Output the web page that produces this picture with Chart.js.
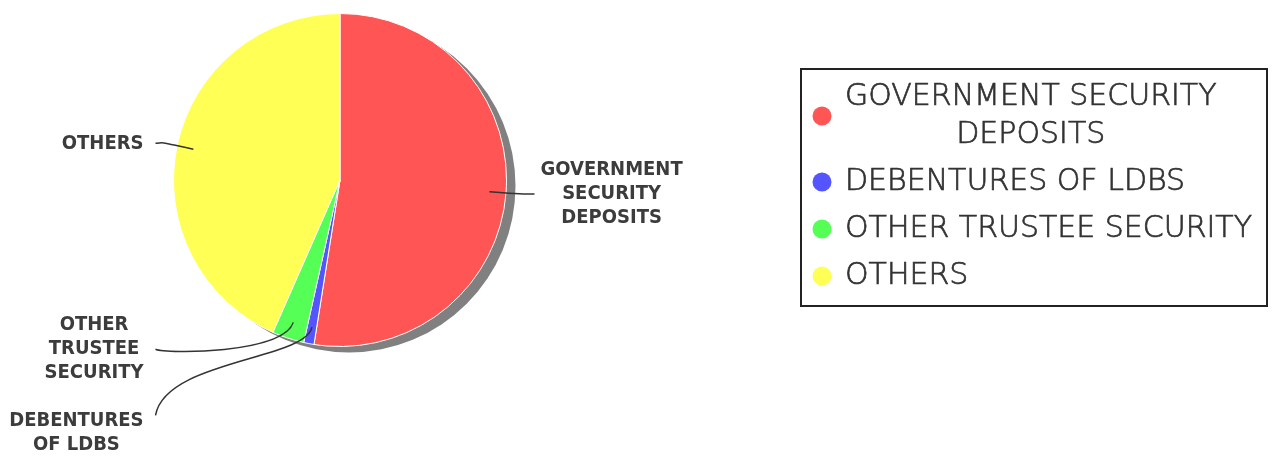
<!DOCTYPE html>
<html>
<head>
<meta charset="utf-8">
<script src="https://cdn.jsdelivr.net/npm/chart.js@4.4.0/dist/chart.umd.min.js"></script>
<style>
  html, body { margin: 0; padding: 0; background: #fff; }
  #wrap { width: 1276px; height: 457px; }
</style>
</head>
<body>
<div id="wrap"><canvas id="myChart" width="1276" height="457"></canvas></div>
<script>
const categories = ['GOVERNMENT SECURITY DEPOSITS', 'DEBENTURES OF LDBS', 'OTHER TRUSTEE SECURITY', 'OTHERS']
const shares = [52.5, 1.0, 3.1, 43.4]
const sliceColors = ['#ff5555', '#5555ff', '#55ff55', '#ffff55']

function wrapText(ctx, text, maxWidth) {
    let words = text.split(' ')
    let lines = []
    let line = ''
    words.forEach(w => {
        let test = line ? line + ' ' + w : w
        if (line && ctx.measureText(test).width > maxWidth) {
            lines.push(line)
            line = w
        } else {
            line = test
        }
    })
    if (line) lines.push(line)
    return lines
}

// gray drop shadow behind the pie
const shadowPlugin = {
    id: 'pieShadow',
    beforeDatasetsDraw(chart) {
        let arc = chart.getDatasetMeta(0).data[0]
        if (!arc) return
        let ctx = chart.ctx
        ctx.save()
        ctx.fillStyle = '#808080'
        ctx.beginPath()
        ctx.arc(arc.x + 9, arc.y + 6, arc.outerRadius, 0, Math.PI * 2)
        ctx.fill()
        ctx.restore()
    }
}

// outside labels with curved link lines
const labelPlugin = {
    id: 'pieLabels',
    afterDatasetsDraw(chart) {
        let ctx = chart.ctx
        let arcs = chart.getDatasetMeta(0).data
        let lineH = 24
        ctx.save()
        ctx.font = 'bold 20px "DejaVu Sans Condensed"'
        let items = arcs.map((arc, i) => {
            let mid = (arc.startAngle + arc.endAngle) / 2
            let R = arc.outerRadius
            let lines = wrapText(ctx, categories[i], 140)
            return {
                arc, mid, R, lines,
                left: Math.cos(mid) < 0,
                want: arc.y + Math.sin(mid) * R * 1.07,
                h: lines.length * lineH + 24
            }
        })
        ;[true, false].forEach(side => {
            let list = items.filter(it => it.left === side).sort((a, b) => a.want - b.want)
            let prevBottom = -Infinity
            list.forEach(it => {
                it.cy = Math.max(it.want, prevBottom + it.h / 2)
                prevBottom = it.cy + it.h / 2
            })
        })

        items.forEach(it => {
            let {arc, mid, R, lines} = it
            let n = lines.length
            let firstY = it.cy - (n - 1) * lineH / 2
            let targetX = it.left ? arc.x - R - 18 : arc.x + R + 28
            let targetY = it.cy > it.want + 1 ? firstY - 6 : it.cy
            let linkX = arc.x + Math.cos(mid) * R * 0.9
            let linkY = arc.y + Math.sin(mid) * R * 0.9
            let elbowX = arc.x + Math.cos(mid) * R * 1.1
            let elbowY = arc.y + Math.sin(mid) * R * 1.1
            let ctrlX = it.left ? targetX + 10 : targetX - 10

            ctx.strokeStyle = '#333333'
            ctx.lineWidth = 1.5
            ctx.beginPath()
            ctx.moveTo(targetX, targetY)
            ctx.bezierCurveTo(ctrlX, elbowY, elbowX, elbowY, linkX, linkY)
            ctx.stroke()

            let maxW = Math.max(...lines.map(l => ctx.measureText(l).width))
            let centerX = it.left ? targetX - 12 - maxW / 2 : targetX + 6 + maxW / 2
            ctx.fillStyle = '#3c3c3c'
            ctx.textAlign = 'center'
            ctx.textBaseline = 'middle'
            lines.forEach((l, k) => ctx.fillText(l, centerX, firstY + k * lineH))
        })
        ctx.restore()
    }
}

// boxed legend on the right
const legendPlugin = {
    id: 'boxLegend',
    afterDraw(chart) {
        let ctx = chart.ctx
        let boxX = 801, boxY = 69, boxW = 466, boxH = 237
        let lineH = 38, gap = 9
        ctx.save()
        ctx.strokeStyle = '#222222'
        ctx.lineWidth = 2
        ctx.strokeRect(boxX, boxY, boxW, boxH)

        ctx.font = '300 30px "DejaVu Sans"'
        ctx.textBaseline = 'middle'
        ctx.textAlign = 'center'
        let y = boxY + 9
        categories.forEach((label, i) => {
            let lines = wrapText(ctx, label, 420)
            let maxW = Math.max(...lines.map(l => ctx.measureText(l).width))
            let blockH = lines.length * lineH
            ctx.fillStyle = sliceColors[i]
            ctx.beginPath()
            ctx.arc(boxX + 21, y + blockH / 2, 9.5, 0, Math.PI * 2)
            ctx.fill()
            ctx.fillStyle = '#333333'
            ctx.strokeStyle = '#333333'
            ctx.lineWidth = 0.7
            lines.forEach((l, k) => {
                let tx = boxX + 44 + maxW / 2
                let ty = y + lineH / 2 + k * lineH
                ctx.fillText(l, tx, ty)
                ctx.strokeText(l, tx, ty)
            })
            y += blockH + gap
        })
        ctx.restore()
    }
}

const ctx = document.getElementById('myChart').getContext('2d')
const myChart = new Chart(ctx, {
    type: 'pie',
    data: {
        labels: categories,
        datasets: [{
            data: shares,
            backgroundColor: sliceColors,
            borderColor: '#ffffff',
            borderWidth: 1,
            hoverOffset: 0
        }]
    },
    options: {
        responsive: false,
        animation: false,
        layout: {
            padding: {left: 173, top: 13, right: 769, bottom: 110}
        },
        plugins: {
            legend: {display: false},
            tooltip: {enabled: false}
        }
    },
    plugins: [shadowPlugin, labelPlugin, legendPlugin]
})
</script>
</body>
</html>
